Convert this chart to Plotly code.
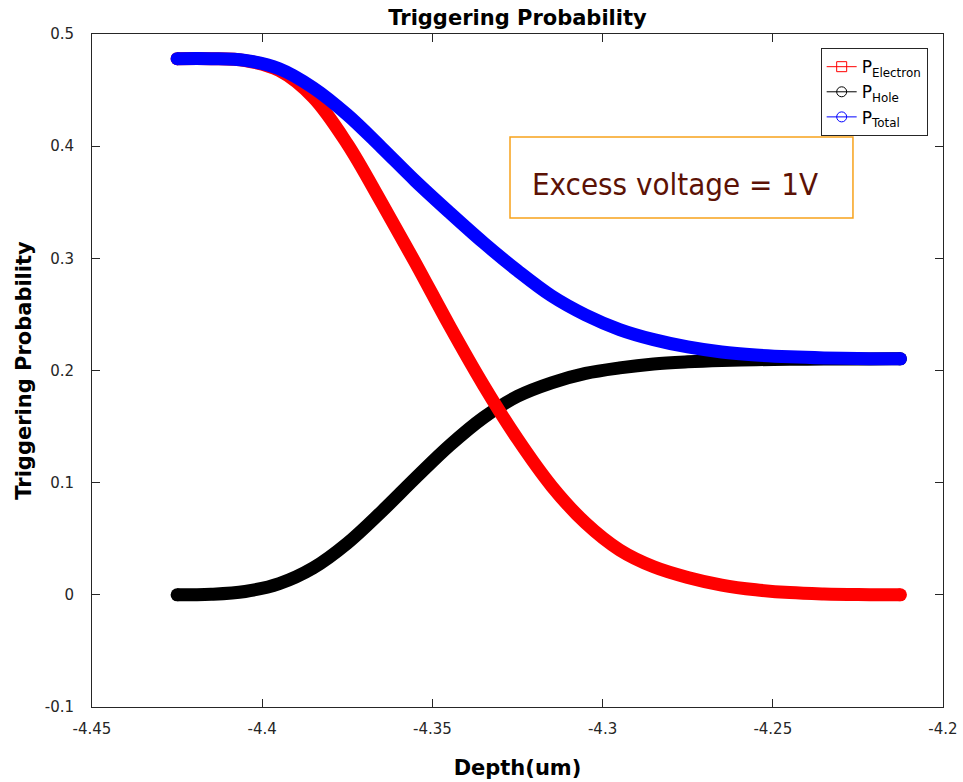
import plotly.graph_objects as go

# ---- data ----
depth = [-4.425, -4.415, -4.405, -4.395, -4.385, -4.375, -4.365, -4.355,
         -4.345, -4.335, -4.325, -4.315, -4.305, -4.295, -4.285, -4.275,
         -4.265, -4.255, -4.245, -4.235, -4.225, -4.215, -4.2125]

p_electron = [0.478, 0.478, 0.4763, 0.4675, 0.4435, 0.402, 0.350, 0.296,
              0.240, 0.187, 0.139, 0.097, 0.064, 0.040, 0.025, 0.0155,
              0.0087, 0.0045, 0.002, 0.0008, 0.0002, 0.0, 0.0]

p_hole = [0.0, 0.0005, 0.003, 0.010, 0.024, 0.046, 0.074, 0.104,
          0.133, 0.158, 0.177, 0.189, 0.1974, 0.2023, 0.2058, 0.2077,
          0.2089, 0.2096, 0.2100, 0.2102, 0.2103, 0.2104, 0.2104]

p_total = [0.478, 0.478, 0.4765, 0.469, 0.452, 0.428, 0.399, 0.369,
           0.341, 0.314, 0.289, 0.2665, 0.2495, 0.2365, 0.2275, 0.221,
           0.2165, 0.2138, 0.2122, 0.2112, 0.2107, 0.2104, 0.2104]

x_tickvals = [-4.45, -4.4, -4.35, -4.3, -4.25, -4.2]
x_ticktext = ["-4.45", "-4.4", "-4.35", "-4.3", "-4.25", "-4.2"]
y_tickvals = [-0.1, 0, 0.1, 0.2, 0.3, 0.4, 0.5]
y_ticktext = ["-0.1", "0", "0.1", "0.2", "0.3", "0.4", "0.5"]

series = [
    ("P<sub>Electron</sub>", p_electron, "#ff0000", "square-open"),
    ("P<sub>Hole</sub>", p_hole, "#000000", "circle-open"),
    ("P<sub>Total</sub>", p_total, "#0000ff", "circle-open"),
]

FONT = "DejaVu Sans"
LW = 13
n = len(depth)
end_sizes = [LW] + [0] * (n - 2) + [LW]

fig = go.Figure()

# draw order: hole, electron, total (total on top)
for idx in (1, 0, 2):
    name, vals, col, sym = series[idx]
    fig.add_trace(go.Scatter(
        x=depth, y=vals, mode="lines+markers",
        line=dict(color=col, width=LW, shape="spline", smoothing=1.0),
        marker=dict(color=col, size=end_sizes, symbol="circle", opacity=1,
                    line=dict(width=0)),
        showlegend=False, hoverinfo="skip"))

# legend entries
for name, vals, col, sym in series:
    fig.add_trace(go.Scatter(
        x=[None], y=[None], mode="lines+markers", name=name,
        line=dict(color=col, width=1),
        marker=dict(color=col, size=10, symbol=sym, line=dict(width=1, color=col))))

axis_common = dict(
    showline=True, linecolor="#262626", linewidth=1, mirror="ticks",
    ticks="inside", ticklen=8, tickcolor="#262626", tickwidth=1,
    showgrid=False, zeroline=False, automargin=False,
    tickfont=dict(family=FONT, size=15, color="#262626"),
)

fig.update_layout(
    width=963, height=782,
    margin=dict(l=92, r=20, t=34, b=75),
    paper_bgcolor="white", plot_bgcolor="white",
    title=dict(text="Triggering Probability", x=0.5, xref="paper",
               y=1 - 18 / 782, yref="container", yanchor="middle",
               font=dict(family=FONT, size=21, color="black", weight="bold")),
    xaxis=dict(range=[-4.45, -4.2], tickvals=x_tickvals, ticktext=x_ticktext,
               ticklabelstandoff=8,
               title=dict(text="Depth(um)", standoff=23,
                          font=dict(family=FONT, size=21, color="black", weight="bold")),
               **axis_common),
    yaxis=dict(range=[-0.1, 0.5], tickvals=y_tickvals, ticktext=y_ticktext,
               ticklabelstandoff=14,
               title=dict(text="Triggering Probability", standoff=7,
                          font=dict(family=FONT, size=21, color="black", weight="bold")),
               **axis_common),
    legend=dict(x=0.982, y=0.979, xanchor="right", yanchor="top",
                bgcolor="white", bordercolor="#262626", borderwidth=1,
                font=dict(family=FONT, size=17, color="black"),
                tracegroupgap=0, itemwidth=30),
    showlegend=True,
)

# annotation box
fig.add_shape(type="rect", xref="paper", yref="paper",
              x0=0.4912, x1=0.8942, y0=0.7266, y1=0.8470,
              line=dict(color="#f7a21b", width=1.5), fillcolor="white", layer="above")
fig.add_annotation(text="Excess voltage = 1V", xref="paper", yref="paper",
                   x=0.5147, y=0.777, xanchor="left", yanchor="middle", showarrow=False,
                   font=dict(family="DejaVu Sans Condensed, DejaVu Sans, sans-serif",
                             size=31, color="#5c1205"))

fig.write_html("out.html")
